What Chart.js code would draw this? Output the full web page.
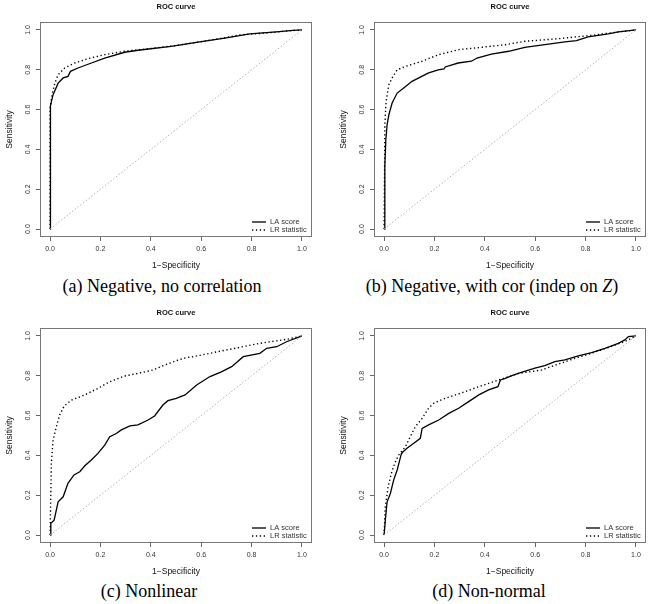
<!DOCTYPE html>
<html>
<head>
<meta charset="utf-8">
<script src="https://cdn.jsdelivr.net/npm/chart.js@4.4.0/dist/chart.umd.min.js"></script>
<style>
body{margin:0;width:651px;height:604px;background:#fff;position:relative;overflow:hidden}
.panel{position:absolute;width:317px;height:275px}
.cap{position:absolute;font-family:"Liberation Serif",serif;font-size:18px;line-height:20px;color:#000;white-space:nowrap;transform:translateX(-50%)}
</style>
</head>
<body>
<div class="panel" style="left:0;top:0"><canvas id="cA" width="317" height="275"></canvas></div>
<div class="panel" style="left:334px;top:0"><canvas id="cB" width="317" height="275"></canvas></div>
<div class="panel" style="left:0;top:306px"><canvas id="cC" width="317" height="275"></canvas></div>
<div class="panel" style="left:334px;top:306px"><canvas id="cD" width="317" height="275"></canvas></div>
<div class="cap" style="left:162px;top:276px">(a) Negative, no correlation</div>
<div class="cap" style="left:492px;top:276px">(b) Negative, with cor (indep on <i>Z</i>)</div>
<div class="cap" style="left:149px;top:581px">(c) Nonlinear</div>
<div class="cap" style="left:489px;top:581px">(d) Non-normal</div>
<script>
/* axis ticks */
const tickVals=[0,0.2,0.4,0.6,0.8,1.0];
const diagX=[0,1];
const diagY=[0,1];

/* (a) Negative, no correlation */
const aLaX=[0,0,0.003,0.012,0.032,0.052,0.071,0.081,0.111,0.164,0.217,0.296,0.349,0.481,0.594,0.7,0.793,0.898,0.964,1];
const aLaY=[0,0.6,0.62,0.675,0.733,0.759,0.767,0.792,0.809,0.834,0.859,0.888,0.898,0.918,0.94,0.96,0.98,0.99,0.998,1];
const aLrX=[0,0,0.008,0.019,0.032,0.058,0.098,0.151,0.217,0.296,0.4,0.5,0.594,0.7,0.75,0.86,0.96,1];
const aLrY=[0,0.608,0.675,0.733,0.775,0.809,0.834,0.856,0.876,0.893,0.907,0.922,0.94,0.962,0.975,0.985,0.997,1];

/* (b) Negative, with cor */
const bLaX=[0,0.003,0.007,0.012,0.019,0.032,0.052,0.078,0.111,0.138,0.177,0.215,0.238,0.243,0.294,0.347,0.369,0.426,0.495,0.559,0.638,0.718,0.764,0.81,0.89,0.93,1];
const bLaY=[0,0.315,0.449,0.524,0.574,0.633,0.683,0.709,0.742,0.759,0.784,0.8,0.804,0.814,0.834,0.843,0.859,0.879,0.893,0.913,0.926,0.94,0.946,0.965,0.98,0.99,1];
const bLrX=[0,0.002,0.003,0.008,0.019,0.032,0.052,0.085,0.151,0.217,0.296,0.389,0.481,0.559,0.69,0.824,0.93,1];
const bLrY=[0,0.3,0.524,0.642,0.725,0.759,0.8,0.817,0.843,0.876,0.901,0.913,0.926,0.943,0.956,0.973,0.99,1];

/* (c) Nonlinear */
const cLaX=[0,0.003,0.016,0.032,0.052,0.071,0.095,0.118,0.138,0.164,0.19,0.217,0.237,0.263,0.283,0.317,0.349,0.389,0.415,0.448,0.468,0.501,0.536,0.582,0.635,0.68,0.721,0.767,0.833,0.86,0.9,0.939,1];
const cLaY=[0,0.059,0.075,0.167,0.192,0.26,0.302,0.318,0.348,0.377,0.41,0.452,0.494,0.51,0.528,0.548,0.553,0.578,0.598,0.653,0.675,0.687,0.704,0.754,0.796,0.82,0.846,0.896,0.913,0.938,0.946,0.971,1];
const cLrX=[0,0.003,0.005,0.012,0.025,0.038,0.056,0.085,0.138,0.19,0.237,0.296,0.349,0.409,0.455,0.508,0.541,0.569,0.701,0.833,0.939,1];
const cLrY=[0,0.209,0.36,0.477,0.544,0.603,0.648,0.678,0.704,0.737,0.77,0.799,0.812,0.829,0.854,0.879,0.891,0.896,0.93,0.963,0.983,1];

/* (d) Non-normal */
const dLaX=[0,0.005,0.012,0.025,0.038,0.052,0.069,0.071,0.091,0.118,0.144,0.151,0.177,0.217,0.257,0.296,0.336,0.376,0.415,0.452,0.462,0.481,0.515,0.545,0.599,0.638,0.678,0.718,0.771,0.824,0.877,0.93,0.956,0.97,1];
const dLaY=[0,0.075,0.167,0.209,0.276,0.327,0.41,0.413,0.436,0.461,0.486,0.536,0.553,0.578,0.611,0.637,0.67,0.704,0.729,0.745,0.779,0.787,0.804,0.817,0.838,0.851,0.871,0.88,0.9,0.916,0.938,0.963,0.98,0.997,1];
const dLrX=[0,0.005,0.016,0.029,0.042,0.058,0.085,0.104,0.124,0.151,0.177,0.197,0.243,0.31,0.376,0.455,0.535,0.625,0.691,0.758,0.824,0.89,0.956,1];
const dLrY=[0,0.142,0.243,0.31,0.36,0.402,0.444,0.494,0.544,0.586,0.637,0.662,0.687,0.715,0.745,0.779,0.812,0.829,0.858,0.888,0.913,0.942,0.972,1];

const pts=(xs,ys)=>xs.map((x,i)=>({x:x,y:ys[i]}));

/* box round the plot plus R-style legend in the corner */
const boxPlugin={
id:"box",
afterDraw(c){
const a=c.chartArea,ctx=c.ctx;
ctx.save();
ctx.strokeStyle="#777";
ctx.lineWidth=1;
ctx.setLineDash([]);
ctx.strokeRect(a.left+0.5,a.top+0.5,a.width-1,a.height-1);
ctx.font="7.5px 'Liberation Sans'";
ctx.fillStyle="#333";
ctx.textBaseline="middle";
const x0=a.right-60;
[1,2].forEach((k,i)=>{
const ds=c.data.datasets[k];
const y=a.bottom-15+i*8;
ctx.beginPath();
ctx.strokeStyle="#000";
ctx.lineWidth=ds.borderWidth;
ctx.setLineDash(ds.borderDash||[]);
ctx.moveTo(x0,y);
ctx.lineTo(x0+14,y);
ctx.stroke();
ctx.fillText(ds.label,x0+18,y);
});
ctx.restore();
}
};

function axis(title,isY){
return {
type:"linear",min:-0.04,max:1.04,
afterBuildTicks:s=>{s.ticks=tickVals.map(v=>({value:v}));},
afterFit:s=>{if(isY) s.width=40; else s.height=38;},
grid:{display:true,drawOnChartArea:false,drawTicks:true,tickLength:4,color:"#666"},
border:{display:false},
ticks:{
font:{family:"Liberation Sans",size:7},color:"#333",
padding:isY?3:4,
minRotation:isY?90:0,maxRotation:isY?90:0,
crossAlign:isY?"center":"near",
callback:v=>v.toFixed(1)
},
title:{display:true,text:title,color:"#111",
font:{family:"Liberation Sans",size:8.5},
padding:isY?{top:5,bottom:0}:{top:0,bottom:4}}
};
}

function makeChart(id,laX,laY,lrX,lrY){
new Chart(document.getElementById(id),{
type:"line",
data:{
datasets:[
{label:"diag",data:pts(diagX,diagY),borderColor:"#b0b0b0",borderWidth:1,borderDash:[1.5,2],pointRadius:0},
{label:"LA score",data:pts(laX,laY),borderColor:"#000",borderWidth:1.3,pointRadius:0},
{label:"LR statistic",data:pts(lrX,lrY),borderColor:"#000",borderWidth:1.4,borderDash:[1.3,2.6],pointRadius:0}
]
},
options:{
responsive:false,
animation:false,
layout:{padding:{top:0,right:5,bottom:0,left:0}},
plugins:{
legend:{display:false},
tooltip:{enabled:false},
title:{display:true,text:"ROC curve",fullSize:false,color:"#111",
font:{family:"Liberation Sans",size:7.5,weight:"bold"},
padding:{top:2.5,bottom:10.5}}
},
scales:{
x:axis("1\u2212Specificity",false),
y:axis("Sensitivity",true)
}
},
plugins:[boxPlugin]
});
}

makeChart("cA",aLaX,aLaY,aLrX,aLrY);
makeChart("cB",bLaX,bLaY,bLrX,bLrY);
makeChart("cC",cLaX,cLaY,cLrX,cLrY);
makeChart("cD",dLaX,dLaY,dLrX,dLrY);
</script>
</body>
</html>
